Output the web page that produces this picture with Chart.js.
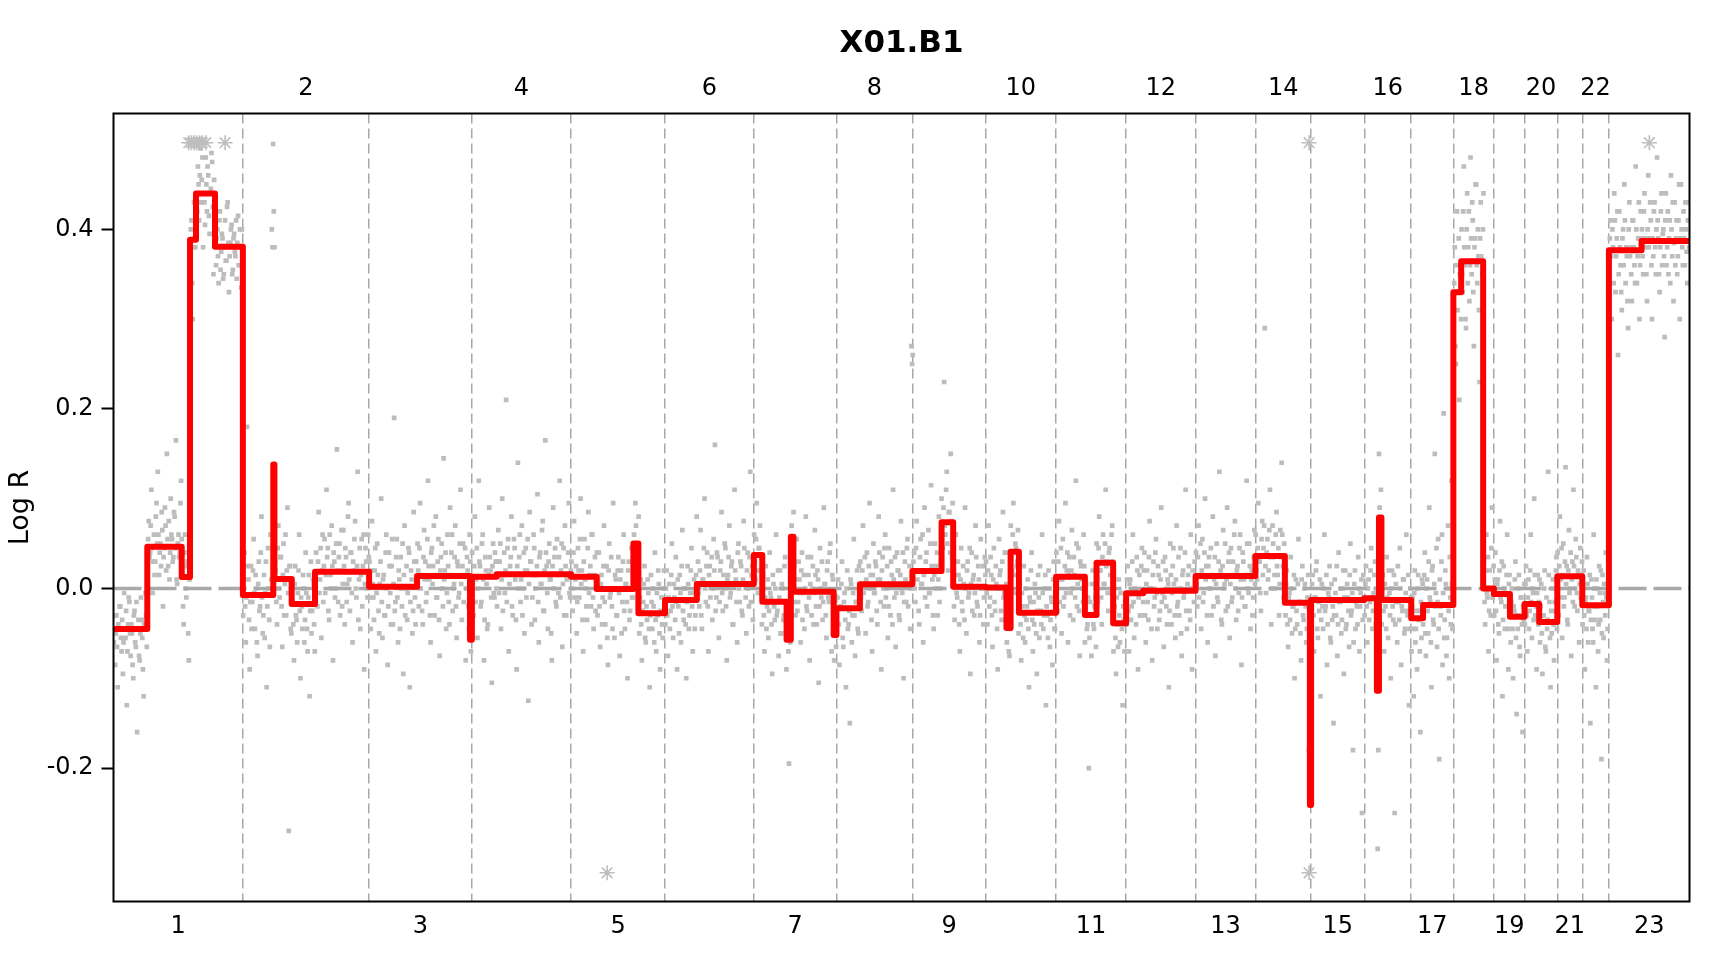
<!DOCTYPE html>
<html>
<head>
<meta charset="utf-8">
<script src="https://cdn.jsdelivr.net/npm/chart.js@4.4.1/dist/chart.umd.min.js"></script>
<style>
  html, body { margin: 0; padding: 0; background: #fff; }
  #wrap { width: 1728px; height: 960px; }
</style>
</head>
<body>
<div id="wrap"><canvas id="cnChart" width="1728" height="960"></canvas></div>
<script>
// chromosomes 1..22 + X (drawn as 23), lengths in Mb
const chromNames = ['1','2','3','4','5','6','7','8','9','10','11','12','13','14','15','16','17','18','19','20','21','22','23'];
const chromLen = [249.25, 243.2, 198.02, 191.15, 180.92, 171.12, 159.14, 146.36, 141.21, 135.53, 135.01, 133.85,
  115.17, 107.35, 102.53, 90.35, 81.2, 78.08, 59.13, 63.03, 48.13, 51.3, 155.27];

// probe log R values (x1000), in order along each chromosome
const lr1 = [-60,-30,-85,-50,-30,-65,-110,-40,-45,-20,-20,-55,-70,-35,-95,-60,-5,-45,-55,-25,-130,-70,-40,-10,-15,-50,
  -75,-40,-50,-85,-100,-30,-25,-60,-65,-15,-160,-45,-35,-75,-80,-50,-10,-35,-55,-90,-120,-40,-45,-5,-30,-65,
  20,55,75,35,40,70,110,45,-5,30,60,15,30,80,95,50,130,60,15,40,50,25,85,65,-20,35,45,90,70,20,150,55,25,75,
  10,40,100,60,55,30,35,85,80,45,165,10,5,50,60,35,40,95,120,55,
  15,-20,-40,40,60,0,-10,25,30,-50,-80,10,
  360,400,410,340,300,380,430,390,380,420,
  440,420,470,450,410,460,490,430,455,480,380,440,430,405,480,450,420,470,460,415,395,440,445,485,475,425,350,455,430,400,
  360,390,400,370,340,410,420,355,375,395,390,345,350,380,410,365,365,425,430,385,330,370,385,400,405,350,355,390,
  395,375,370,410,345,385,415,360,380,400,360,335,400,380];
const lr2 = [-30,10,40,-20,-60,-10,180,25,10,-35,-90,-15,25,-45,-15,20,55,-5,-45,15,0,-60,-75,5,30,-25,-20,40,80,-10,
  -50,-30,15,-55,-5,30,-110,-20,45,0,-35,-65,60,10,400,380, 495,420,
  380,30,20,-15,-40,45,70,0,-10,35,35,-20,-65,15,50,-30,5,60,-30,20,90,-5,-270,25,25,-45,
  -50,-15,10,-40,-80,5,25,-30,-35,-60,-5,20,60,-25,-100,-10,-20,-45,15,0,-60,-35,40,-5,-45,-70,-10,15,-120,-25,
  30,-50,-25,10,5,-40,-70,-15,
  40,10,-20,30,85,-5,10,45,-55,20,60,-15,25,55,-5,15,110,35,45,-25,-35,60,15,0,70,25,-80,40,30,-10,0,50,155,20,
  -15,35,50,-30,20,65,-20,5,65,25,-40,45,35,-15,5,80,95,10,-25,40,40,-5,-60,30,20,55,75,0,-10,25,130,-35,10,45,
  -45,15,55,-20,25,60,-90,5,45,30,0,-10,60,35];
const lr3 = [30,-10,-45,20,75,5,-10,-35,20,45,-70,-5,50,15,-25,-50,5,30,100,-15,-55,10,15,-30,-30,40,60,0,-85,-20,
  40,25,-5,-40,25,55,-40,5,190,-25,-15,35,55,-10,-60,20,10,-45,35,0,-20,50,-95,15,70,-30,0,25,-35,-5,45,40,
  -110,-15,20,10,-50,-25,85,30,-10,-40,30,5,
  50,20,-20,45,95,0,15,-25,-40,35,65,10,30,-15,-5,55,120,25,10,-30,-60,40,45,5,25,70,-30,15,80,-10,-10,30,55,-35,
  -75,20,35,50,0,-20,145,10,20,40,-45,-5,60,25,-15,-40,90,15,40,60,-25,0,5,35,70,-20,-55,30,25,-10,-5,50,110,5,
  -35,25,50,-15,15,45,-80,0,35,20,-20,-45,60,30,
  -70,-40];
const lr4 = [40,5,-30,25,80,-15,10,45,-55,0,120,30,25,-20,-15,50,60,10,-80,-35,35,20,5,-45,-40,15,90,35,20,-10,
  -105,25,50,-5,-10,40,30,0,
  -20,30,65,-5,30,50,-45,10,100,-25,15,40,-5,20,210,-15,45,55,-70,5,25,35,80,-20,-30,15,55,45,10,-35,-90,25,
  140,0,35,60,-15,10,70,-30,0,40,-50,20,45,-10,20,55,-125,5,85,30,30,-40,-10,15,60,45,-35,0,15,25,105,-15,
  -60,35,40,5,5,65,75,-25,-25,20,165,40,25,-5,-45,30,50,10,10,-50,-80,25,90,0,35,45,-15,-20,55,15,-5,35,
  120,-10,20,50,-65,5,45,-30,70,25,-30,10,15,40,95,-5,-10,20];
const lr5 = [30,0,-25,40,75,-10,10,25,-50,-15,45,20,-10,55,100,5,20,-35,-70,30,55,10,0,-20,-35,45,85,-5,15,25,
  -20,60,60,-10,-45,15,35,-25,5,40,
  -30,10,40,-20,-65,5,15,-40,-10,25,70,-15,-40,0,25,-55,-85,20,50,-10,-5,35,-20,-45,95,0,-55,15,10,-30,
  -30,20,35,-5,-75,10,20,-50,-15,30,60,-25,-45,5,5,-15,-100,20,30,-35,-25,0,45,-10,-10,25,
  60,30,95,70,20,45,40,80,
  -50,-10,10,-40,-80,-25,-15,5,25,-55,-60,-20,-35,10,-5,-45,-110,-30,15,-15,-45,0,-20,-60,40,-35,-70,-5,
  -30,20,5,-50,-90,-25,-10,-40,-55,0,20,-20];
const lr6 = [-40,0,20,-30,-75,-10,5,-45,-25,15,50,-20,-55,5,-10,-35,35,-15,-90,10,-20,-50,15,-5,-60,25,65,-25,
  -35,0,0,-40,-100,-15,25,5,-45,-30,-5,20,45,-20,-70,-5,10,-45,-30,15,80,-10,
  30,-5,-20,20,65,-30,-45,10,10,45,100,0,-15,25,40,-20,-70,15,25,-10,5,35,-35,0,55,20,160,-25,-10,40,35,5,
  -55,-15,20,30,85,-5,-25,15,0,50,45,-20,-80,10,15,35,70,-10,-5,25,30,-40,-40,5,110,20,10,-15,-60,40,50,0,
  -15,30,25,-25,-30,10,75,45,5,-10,-50,20,40,0,-20,35,130,-15,15,25,-35,5];
const lr7 = [60,30,10,55,95,20,-5,45,45,70,20,35,
  -40,5,15,-30,-70,-10,25,-45,-20,10,-55,-25,40,-5,-10,-40,-95,15,5,-20,-35,0,60,-30,-25,20,-75,-10,20,-50,
  -50,5,0,-35,-30,25,35,-15,
  -90,-50,-40,-70,-195,-45,-60,-30, 70,40,45,85,
  25,-15,-30,10,55,-25,-15,30,10,-5,-60,20,40,-35,-5,15,-45,0,80,-20,-25,35,15,-10,-80,5,35,-30,0,25,-40,-5,
  65,15,-20,-40,20,10,-105,-20,45,0,-10,30,-35,-15,90,5,5,-30,-55,20,30,-10,-15,40,50,-5,-70,15,10,-25,
  -80,-45,-30,-65];
const lr8 = [-50,-10,10,-40,-85,-20,-20,5,30,-55,-65,-15,-5,-35,-110,0,20,-45,-40,-25,-150,10,5,-60,-30,-5,
  55,-30,-75,-15,-15,20,-45,-50,25,-10,
  30,-10,-25,20,70,-5,5,35,-50,10,40,-20,-15,25,95,0,15,-35,-70,15,50,-5,-5,30,25,-25,-40,10,80,40,10,-15,
  -90,20,35,0,-20,45,60,-10,0,25,-55,-20,45,5,-30,30,15,-40,110,10,-10,35,-65,-5,40,20,20,-30,-35,15,75,0,
  -5,40,-100,-15,30,10,-15,45,55,-20,5,25,-45,0,270,250];
const lr9 = [260,30,40,0,-15,45,75,10,20,-25,-40,35,55,5,5,60,-60,15,90,-10,30,40,-20,20,65,-5,-5,50,115,25,
  10,-30,-45,15,50,0,25,40,-30,10,80,-15,0,30,
  100,60,45,90,230,70,60,110,130,50,20,85,85,40,150,75,35,95,
  20,-20,-35,15,60,-5,-10,30,15,-40,-70,10,45,-15,-25,25,5,-35,90,0,-50,20,30,-10,-5,45,-95,5,40,-25,10,15,
  -30,-5,70,35,-15,-20,25,10,-60,-30,55,0,0,25,-40,-10,35,15];
const lr10 = [30,-5,-40,20,70,-20,-10,35,15,-30,-65,10,45,-15,-25,25,5,-45,-90,0,55,15,20,-25,-35,30,85,-10,
  -5,40,40,5,
  -60,-30,-20,-70,-75,-45,
  70,35,20,60,95,15,-5,50,45,25,30,65,
  -50,-15,5,-40,-80,-5,-20,-55,25,-30,-60,0,-35,-20,10,-45,-110,-10,-15,20,40,-35,-70,-15,-40,5,-5,-50,
  -95,-25,15,-10,-55,25,-25,-40,60,-5,-45,-30,0,15,-130,-20,-30,-55,20,0,-65,-35,-10,-15,-85,10,30,-45,-45,-20];
const lr11 = [40,0,-25,30,75,-15,10,45,-50,10,55,-20,-10,25,95,-5,20,40,-60,15,35,-30,-5,20,65,0,-35,35,15,-10,
  120,50,-20,5,45,-25,-75,30,25,10,0,-15,60,25,
  -60,-15,5,-45,-40,-10,-200,-55,-15,-30,-75,5,20,-40,-45,-20,-10,-65,
  50,10,-15,45,80,20,20,-10,-40,35,60,5,5,50,110,25,30,-5,-25,40,45,15,-5,60,70,30,
  -70,-25,-20,-55,-95,-10,-40,-65,10,-30,-60,-5,-5,-45,-130,-20,-35,-70,-15,-40];
const lr12 = [-40,10,25,-25,-70,5,10,-35,-20,30,60,-15,-55,0,-5,-40,35,20,-90,-10,15,-30,-30,25,45,-5,
  -15,20,40,-30,-60,5,20,-15,-35,35,75,0,0,-45,-80,15,30,-20,-10,40,55,-5,-45,25,15,-35,-25,10,90,-15,
  -5,30,-65,-10,35,20,-20,-40,10,5,-110,-25,50,15,-40,-5,25,45,5,-30,-55,10,70,-20,-15,35,-30,0,45,-50,
  -75,15,20,-10,-5,40,110,-25,-45,5,15,25,-25,-35,60,0,-90,20,0,-15,30,10];
const lr13 = [40,5,-20,35,70,-10,15,50,-45,20,55,-15,-5,40,100,10,25,-30,-60,25,35,0,0,45,-30,15,80,-20,10,35,
  -75,5,50,-10,-15,30,130,15,20,-35,-40,25,65,0,5,50,-25,10,90,-20,30,40,-55,5,45,-15,-10,30,15,60,
  75,0,-35,20,25,-25,-5,45,60,10,-85,-10,40,30,10,-20,-20,15,120,50,0,-5,50,25,-45,10,20,-30,-10,35,65,5];
const lr14 = [60,20,10,45,95,30,30,-5,-25,55,75,15,45,70,290,25,-5,40,55,10,20,65,110,35,-40,0,70,50,35,15,
  0,60,85,25,15,45,-30,5,65,35,140,60,25,-10,50,30,
  -30,5,20,-40,-65,-10,-5,-35,35,0,-50,-20,-20,15,-100,-45,10,-25,-40,5,55,-15,-15,-50,-80,10,25,-30,
  -35,0,5,-20,-60,-45,-10,15,-180,-30,
  -230,-120];
const lr15 = [-40,5,15,-30,-70,-10,-10,20,30,-45,-55,-15,-25,10,-120,-35,5,-20,-45,0,60,-25,-20,15,-85,-40,
  -5,-10,25,-55,-60,5,-35,-20,-150,-30,10,-5,-30,25,-75,-40,40,-15,-15,0,-50,-35,0,20,-95,-10,20,-45,
  -40,5,-10,-25,-65,15,50,-30,-25,-5,-180,-60,5,20,-45,-15,-20,-40,35,0,-70,-20,-5,10,-250,-35,15,-10];
const lr16 = [-30,5,25,-20,-60,0,10,-35,-15,20,45,-10,-45,-25,-5,15,30,-40,-80,0,
  -290,-180, 150,90,40,110,
  -40,0,15,-25,-70,5,-20,-45,35,-10,-55,20,-5,-30,-100,0,20,-20,-35,15,-250,-40,5,-15,-60,25,-15,-35,
  45,0,-85,-20,-25,10,10,-50,-45,-5,60,-25,-30,15,-130,-45,0,-10];
const lr17 = [-70,-20,-10,-45,-120,-5,20,-60,-45,-25,-90,0,15,-35,-25,-70,-160,-15,-55,10,5,-40,
  -30,15,40,-50,-75,0,10,-25,-50,30,90,-10,-15,-60,-110,20,25,-35,-40,5,150,-20,-5,45,-65,-15,55,-45,
  -190,10,-20,-30,30,60,-85,-5,195,-55,-35,20,5,-75,-55,0,70,-25,-100,35,-10,-40,120,5,-45,-15];
const lr18 = [300,340,380,270,250,360,420,310,330,390,210,350,360,300,
  400,350,330,420,470,380,360,300,290,400,440,340,380,420,320,360,480,390,350,430,410,330,270,380,
  390,450,450,360,340,400,370,310,230,390,430,370,310,350,400,440,
  30,-15,-40,20,60,-5,-10,35,-70,-25,20,0,-30,45,90,-10,-5,25];
const lr19 = [-30,10,40,-25,-80,5,10,-40,-50,20,75,-10,-15,30,-120,-35,25,0,-45,-20,-5,15,60,-45,-90,5,15,-25,
  -60,-15,0,-45,-100,-20,-25,10,30,-55,-140,-30,-45,0,15,-65,-75,-10,-10,-40,-160,-20,-35,5];
const lr20 = [-40,5,25,-30,-70,-10,10,-45,-25,20,60,-15,-55,0,-5,-35,100,15,-30,-20,-90,-5,15,-40,-15,10,
  -60,-20,5,-50,-95,-30,-30,0,20,-65,-70,-10,-45,-35,130,15,-15,-55,-110,-25,-50,0,10,-40,-80,-15,-25,20,35,-45];
const lr21 = [40,0,-30,25,80,-10,10,45,-55,15,50,-20,-10,30,135,5,25,-35,-40,20,65,-5,0,40,-75,10,30,-15,
  110,25,-20,0,55,35,-5,-25,20,15,-60,5,45,-10,15,30];
const lr22 = [-40,0,20,-30,-90,-15,-10,-45,35,5,-60,-25,-25,15,-150,-35,10,-10,-45,-60,60,0,-20,-35,-110,10,
  0,-20,-70,-40,25,-5,-35,20,-190,-50,15,-15,-55,5,-5,-30,40,-10,-80,-45,-15,0];
const lrX = [350,390,410,370,300,400,380,340,440,410,330,370,390,420,260,350,420,380,360,330,310,390,400,360,
  450,410,340,380,370,320,290,400,430,370,380,350,320,410,410,380,360,340,470,400,340,370,390,430,300,360,420,390,
  400,370,350,420,440,390,380,350,320,400,460,380,390,430,410,360,300,390,370,420,430,380,350,400,480,410,
  390,350,330,380,420,440,360,395,400,370,280,410,440,360,380,420,350,390,410,340,460,400,370,430,320,385,
  430,360,390,410,350,370,410,450,300,390,450,400,380,360,420,390,360,430,400,375,340,410,430,380];

// segmentation (local Mb within chromosome)
const segChrom = [1,1,1,1,1,1, 2,2,2,2,2, 3,3,3, 4,4, 5,5,5,5, 6,6, 7,7,7,7,7,7, 8,8, 9,9,9, 10,10,10,10,
  11,11,11,11, 12,12, 13, 14,14,14, 15, 16,16,16,16, 17,17, 18,18,18, 19,19, 20,20, 21, 22, 23,23];
const segFrom = [0,65.1,131.4,147.4,158.9,195.5, 0,58.6,60.8,94,139, 0,92.4,194.4, 0,47.7, 0,49.3,120,129.6, 0,61.3,
  0,16.3,63.1,71.3,76.3,153.8, 0,45.2, 0,56.2,78.6, 0,40,48,64, 0,55.6,78,110, 0,33, 0, 0,56.8,105, 0,
  0,24.2,28.2,33, 0,22.8, 0,15,57.4, 0,30.9, 0,28.1, 0, 0, 0,62.9];
const segTo = [65.1,131.4,147.4,158.9,195.5,249.25, 58.6,60.8,94,139,243.2, 92.4,194.4,198.02, 47.7,191.15,
  49.3,120,129.6,180.92, 61.3,171.12, 16.3,63.1,71.3,76.3,153.8,159.14, 45.2,146.36, 56.2,78.6,141.21,
  40,48,64,135.53, 55.6,78,110,135.01, 33,133.85, 115.17, 56.8,105,107.35, 102.53, 24.2,28.2,33,90.35,
  22.8,81.2, 15,57.4,78.08, 30.9,59.13, 28.1,63.03, 48.13, 51.3, 62.9,155.27];
const segMean = [-0.045,0.0465,0.0127,0.3885,0.44,0.3805, -0.0072,0.138,0.0107,-0.0172,0.0186, 0.002,0.0139,-0.057,
  0.0131,0.0158, 0.013,-0.0006,0.05,-0.0277, -0.0128,0.005, 0.0373,-0.0147,-0.057,0.0577,-0.0035,-0.0518,
  -0.022,0.0046, 0.0195,0.0737,0.002, 0.001,-0.044,0.041,-0.027, 0.0132,-0.0295,0.0288,-0.0388,
  -0.0054,-0.0024, 0.0139, 0.0362,-0.0158,-0.241, -0.0128, -0.011,-0.114,0.079,-0.0128, -0.0332,-0.0184,
  0.33,0.3644,0, -0.006,-0.0314, -0.0174,-0.0374, 0.0137, -0.0187, 0.3768,0.387];

// probes outside the plotted range (genome Mb), drawn as * at the limits
const outHighPos = [145, 150, 155, 160, 166, 171, 178, 215, 2303.4, 2959];
const outLowPos = [951, 2303.4];
const clipHigh = 0.4965, clipLow = -0.3166;

const yTicks = [-0.2, 0, 0.2, 0.4];
const yMin = -0.3486, yMax = 0.529;

// ---- build
const logRByChrom = [lr1, lr2, lr3, lr4, lr5, lr6, lr7, lr8, lr9, lr10, lr11, lr12, lr13, lr14, lr15, lr16,
  lr17, lr18, lr19, lr20, lr21, lr22, lrX];

const chromStart = [];
let acc = 0;
chromLen.forEach(l => { chromStart.push(acc); acc += l; });
const genomeEnd = acc;
const chromMid = chromLen.map((l, i) => chromStart[i] + l / 2);
const chromEnd = chromLen.map((l, i) => chromStart[i] + l);

const probePts = [];
logRByChrom.forEach((vals, c) => {
  const step = chromLen[c] / vals.length;
  vals.forEach((v, i) => probePts.push({ x: chromStart[c] + (i + 0.5) * step, y: v / 1000 }));
});

const segPts = [];
segMean.forEach((m, k) => {
  const off = chromStart[segChrom[k] - 1];
  segPts.push({ x: off + segFrom[k], y: m }, { x: off + segTo[k], y: m });
});

const starPts = outHighPos.map(p => ({ x: p, y: clipHigh })).concat(outLowPos.map(p => ({ x: p, y: clipLow })));

const FONT = 'DejaVu Sans';
Chart.defaults.font.family = FONT;
Chart.defaults.color = '#000';

const framePlugin = {
  id: 'frame',
  afterDraw(chart) {
    const { ctx, chartArea: a } = chart;
    ctx.save();
    ctx.strokeStyle = '#000';
    ctx.lineWidth = 2;
    ctx.strokeRect(a.left, a.top, a.right - a.left, a.bottom - a.top);
    ctx.restore();
  }
};

new Chart(document.getElementById('cnChart'), {
  type: 'scatter',
  data: {
    datasets: [
      {
        type: 'line', data: segPts, order: 0,
        borderColor: '#ff0000', borderWidth: 6, pointRadius: 0, tension: 0,
        borderJoinStyle: 'round', borderCapStyle: 'round'
      },
      {
        type: 'line', data: [{ x: 0, y: 0 }, { x: genomeEnd, y: 0 }], order: 1,
        borderColor: '#a9a9a9', borderWidth: 3.5, borderDash: [28, 7], pointRadius: 0
      },
      {
        type: 'scatter', data: starPts, order: 2,
        pointStyle: 'star', pointRadius: 7.5, pointBorderColor: '#bebebe', pointBorderWidth: 1.6,
        pointBackgroundColor: '#bebebe'
      },
      {
        type: 'scatter', data: probePts, order: 3,
        pointStyle: 'rect', pointRadius: 3.3, pointBackgroundColor: '#bdbdbd', pointBorderWidth: 0
      }
    ]
  },
  options: {
    responsive: false,
    animation: false,
    devicePixelRatio: 1,
    layout: { padding: { left: 0, right: 38.5, top: 0, bottom: 0 } },
    plugins: {
      legend: { display: false },
      tooltip: { enabled: false },
      title: { display: false }
    },
    scales: {
      x: {
        type: 'linear', position: 'bottom', min: 0, max: genomeEnd,
        afterBuildTicks: s => { s.ticks = chromMid.filter((_, i) => i % 2 === 0).map(v => ({ value: v })); },
        afterFit: s => { s.height = 58.5; },
        ticks: {
          autoSkip: false, maxRotation: 0, minRotation: 0, padding: 11,
          font: { size: 24 }, color: '#000',
          callback: (v, i) => chromNames[i * 2]
        },
        grid: { display: false, drawTicks: false, tickLength: 0 },
        border: { display: false }
      },
      x2: {
        type: 'linear', position: 'top', min: 0, max: genomeEnd,
        afterBuildTicks: s => { s.ticks = chromMid.filter((_, i) => i % 2 === 1).map(v => ({ value: v })); },
        afterFit: s => { s.height = 113.5; },
        ticks: {
          autoSkip: false, maxRotation: 0, minRotation: 0, padding: 10,
          font: { size: 24 }, color: '#000',
          callback: (v, i) => chromNames[i * 2 + 1]
        },
        grid: { display: false, drawTicks: false, tickLength: 0 },
        border: { display: false },
        title: {
          display: true, text: 'X01.B1', color: '#000',
          font: { family: FONT, size: 31, weight: 'bold' },
          padding: { top: 25, bottom: 0 }
        }
      },
      xb: {
        type: 'linear', position: 'bottom', min: 0, max: genomeEnd,
        afterBuildTicks: s => { s.ticks = chromEnd.slice(0, 22).map(v => ({ value: v })); },
        afterFit: s => { s.height = 0; },
        ticks: { display: false },
        grid: { display: true, drawTicks: false, tickLength: 0, color: '#a8a8a8', lineWidth: 1.5 },
        border: { display: false, dash: [10, 5] }
      },
      y: {
        type: 'linear', position: 'left', min: yMin, max: yMax,
        afterBuildTicks: s => { s.ticks = yTicks.map(v => ({ value: v })); },
        afterFit: s => { s.width = 113.5; },
        ticks: { font: { size: 24 }, color: '#000', padding: 8, callback: v => v.toFixed(1) },
        grid: { drawOnChartArea: false, drawTicks: true, tickLength: 12, tickColor: '#000', tickWidth: 2 },
        border: { display: false },
        title: {
          display: true, text: 'Log R', color: '#000',
          font: { family: FONT, size: 27 }, padding: { top: 5, bottom: 0 }
        }
      }
    }
  },
  plugins: [framePlugin]
});
</script>
</body>
</html>
